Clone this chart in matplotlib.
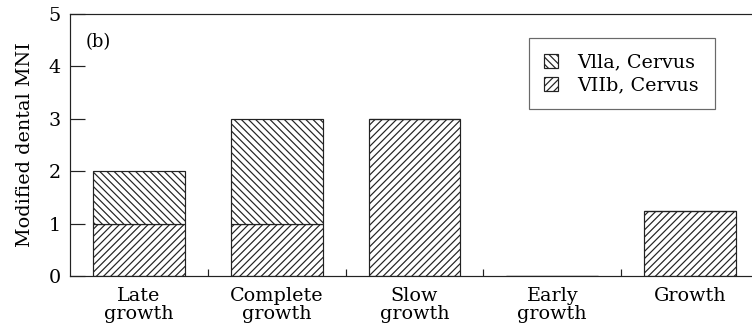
import matplotlib
matplotlib.use("Agg")
import matplotlib.pyplot as plt
import numpy as np

categories = ["Late\ngrowth", "Complete\ngrowth", "Slow\ngrowth", "Early\ngrowth", "Growth"]
viib_cervus = [1, 1, 3, 0, 1.25]
viia_cervus = [1, 2, 0, 0, 0]

plt.rcParams["font.family"] = "DejaVu Serif"
plt.rcParams["hatch.linewidth"] = 1.0

dpi = 86
fs = 16
fig = plt.figure(figsize=(752 / dpi, 335 / dpi), dpi=dpi)
ax = fig.add_axes([70 / 752, 1 - 276 / 335, 689 / 752, 262 / 335])

x = np.arange(len(categories))
width = 0.667
ink = "#222222"

ax.bar(x, viib_cervus, width, color="white", edgecolor=ink, linewidth=1.0,
       hatch="////", label="VIIb, Cervus")
ax.bar(x, viia_cervus, width, bottom=viib_cervus, color="white", edgecolor=ink,
       linewidth=1.0, hatch="\\\\\\\\", label="Vlla, Cervus")

ax.set_xlim(-0.5, len(categories) - 0.5)
ax.set_ylim(0, 5)
ax.set_yticks(range(0, 6))
ax.set_xticks(x)
ax.set_xticklabels(categories, fontsize=fs, linespacing=1.05)
ax.set_xticks(x[:-1] + 0.5, minor=True)
ax.tick_params(axis="y", direction="in", length=12.5, width=1.0, color=ink,
               labelsize=fs, pad=8)
ax.tick_params(axis="x", which="major", length=0, pad=9)
ax.tick_params(axis="x", which="minor", direction="in", length=5.5, width=1.0,
               color=ink)
ax.set_ylabel("Modified dental MNI", fontsize=fs, labelpad=12)

for side in ["left", "bottom", "top", "right"]:
    ax.spines[side].set_color(ink)
    ax.spines[side].set_linewidth(1.0)

ax.text(0.023, 0.893, "(b)", transform=ax.transAxes, fontsize=fs - 1,
        ha="left", va="center")

handles, labels = ax.get_legend_handles_labels()
leg = ax.legend(handles[::-1], labels[::-1], loc="upper left",
                bbox_to_anchor=(0.666, 0.908), borderaxespad=0,
                fontsize=fs, frameon=True, fancybox=False,
                handlelength=0.75, handleheight=0.75, handletextpad=1.0,
                borderpad=0.8, labelspacing=0.25)
leg.get_frame().set_edgecolor("#444444")
leg.get_frame().set_linewidth(1.0)

fig.savefig("out.png", dpi=dpi)
